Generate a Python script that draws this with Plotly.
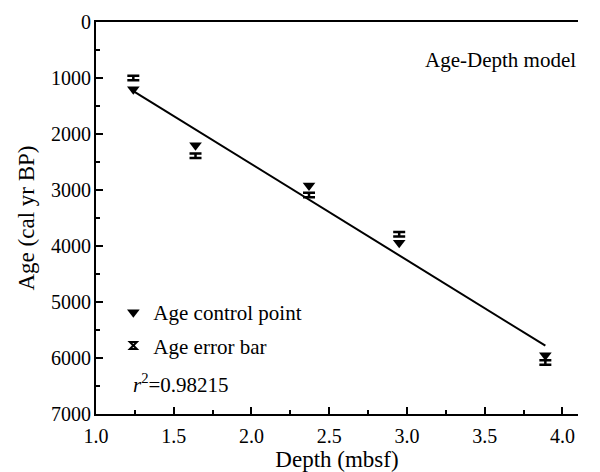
import plotly.graph_objects as go

# Age control points (triangles)
ctrl_depth = [1.24, 1.64, 2.37, 2.95, 3.89]
ctrl_age = [1200, 2200, 2920, 3940, 5950]

# Age error bars (calibrated ages with uncertainty)
err_depth = [1.24, 1.64, 2.37, 2.95, 3.89]
err_age = [1000, 2390, 3090, 3790, 6080]
err_size = [40, 40, 40, 40, 40]

# Linear age-depth model
line_depth = [1.24, 3.89]
line_age = [1233, 5780]

FONT = "Liberation Serif"

fig = go.Figure()
fig.add_trace(go.Scatter(
    x=line_depth, y=line_age, mode="lines",
    line=dict(color="black", width=2), showlegend=False, hoverinfo="skip"))
fig.add_trace(go.Scatter(
    x=ctrl_depth, y=ctrl_age, mode="markers", name="Age control point",
    legendgroup="a",
    marker=dict(symbol="triangle-down", size=11, color="black")))
fig.add_trace(go.Scatter(
    x=err_depth, y=err_age, mode="markers", name="Age error bar",
    showlegend=False,
    marker=dict(size=1, color="rgba(0,0,0,0)"),
    error_y=dict(type="data", array=err_size, visible=True,
                 color="black", thickness=2.5, width=6)))
# legend key for the error bars
fig.add_trace(go.Scatter(
    x=[None], y=[None], mode="markers", name="Age error bar",
    legendgroup="b",
    marker=dict(symbol="hourglass-open", size=7, color="black",
                line=dict(width=2, color="black"))))

fig.update_layout(
    width=600, height=472,
    margin=dict(l=96, r=22, t=22, b=58),
    paper_bgcolor="white", plot_bgcolor="white",
    font=dict(family=FONT, size=20, color="black"),
    legend=dict(x=0.036, y=0.311, xanchor="left", yanchor="top",
                bgcolor="rgba(0,0,0,0)", font=dict(size=21),
                traceorder="grouped", tracegroupgap=3),
    annotations=[
        dict(text="Age-Depth model", xref="paper", yref="paper",
             x=1.0, y=0.903, xanchor="right", yanchor="middle",
             showarrow=False, font=dict(size=21)),
        dict(text="<i>r</i><sup>2</sup>=0.98215", xref="paper", yref="paper",
             x=0.073, y=0.079, xanchor="left", yanchor="middle",
             showarrow=False, font=dict(size=21)),
    ],
)
fig.update_xaxes(
    range=[1.0, 4.1], tickvals=[1.0, 1.5, 2.0, 2.5, 3.0, 3.5, 4.0],
    ticktext=["1.0", "1.5", "2.0", "2.5", "3.0", "3.5", "4.0"],
    showline=True, linecolor="black", linewidth=2, mirror=True,
    ticks="inside", ticklen=7, tickwidth=2, tickcolor="black",
    minor=dict(ticks="inside", ticklen=4, tickwidth=2, tickcolor="black", dtick=0.25, showgrid=False),
    showgrid=False, zeroline=False, tickfont=dict(size=20),
    ticklabelstandoff=3, automargin=False,
    title=dict(text="Depth (mbsf)", font=dict(size=23), standoff=6))
fig.update_yaxes(
    range=[7000, 0], tickvals=[0, 1000, 2000, 3000, 4000, 5000, 6000, 7000],
    showline=True, linecolor="black", linewidth=2,
    ticks="inside", ticklen=7, tickwidth=2, tickcolor="black",
    minor=dict(ticks="inside", ticklen=4, tickwidth=2, tickcolor="black", dtick=500, showgrid=False),
    showgrid=False, zeroline=False, tickfont=dict(size=20),
    ticklabelstandoff=-1, automargin=False,
    title=dict(text="Age (cal yr BP)", font=dict(size=23), standoff=10))

fig.write_html("out.html")
